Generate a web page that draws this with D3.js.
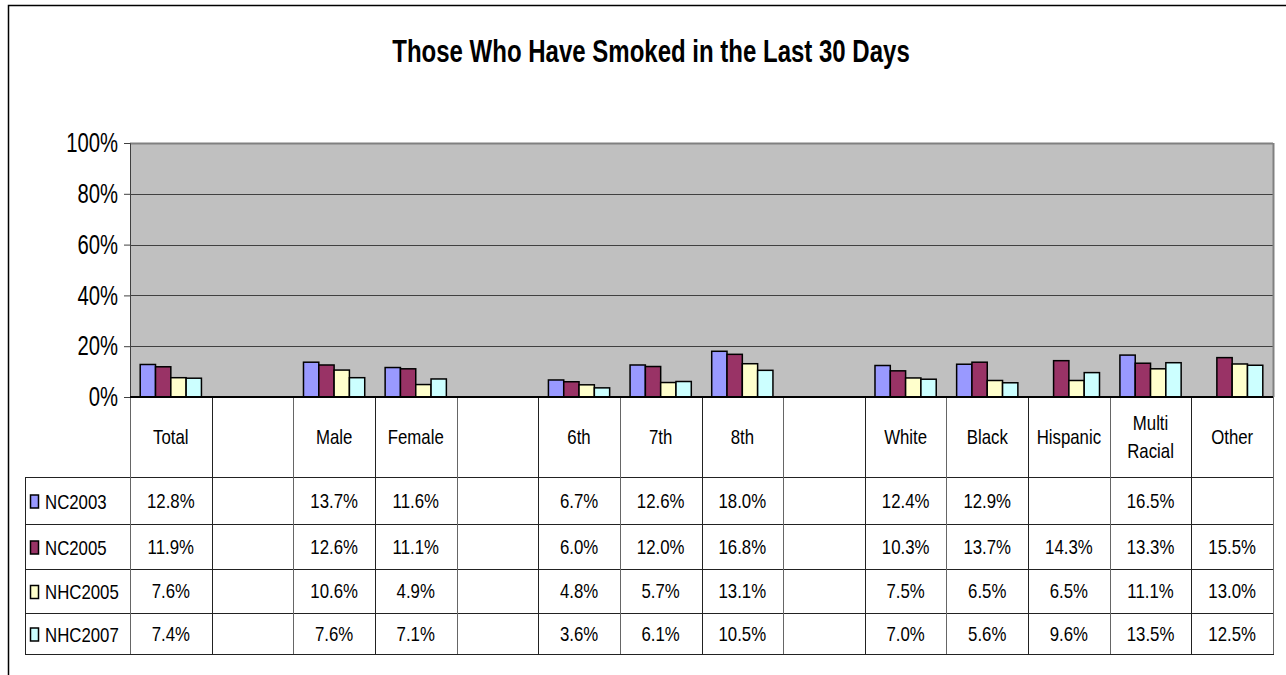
<!DOCTYPE html>
<html>
<head>
<meta charset="utf-8">
<script src="https://cdn.jsdelivr.net/npm/d3@7"></script>
<style>
  body { margin: 0; background: #fff; }
  text { font-family: "Liberation Sans", Arial, sans-serif; fill: #000; }
</style>
</head>
<body>
<div id="chart"></div>
<script>
const categories = ["Total", "", "Male", "Female", "", "6th", "7th", "8th", "", "White", "Black", "Hispanic", "Multi Racial", "Other"];
const seriesNames = ["NC2003", "NC2005", "NHC2005", "NHC2007"];
const nc2003 = [12.8, null, 13.7, 11.6, null, 6.7, 12.6, 18.0, null, 12.4, 12.9, null, 16.5, null];
const nc2005 = [11.9, null, 12.6, 11.1, null, 6.0, 12.0, 16.8, null, 10.3, 13.7, 14.3, 13.3, 15.5];
const nhc2005 = [7.6, null, 10.6, 4.9, null, 4.8, 5.7, 13.1, null, 7.5, 6.5, 6.5, 11.1, 13.0];
const nhc2007 = [7.4, null, 7.6, 7.1, null, 3.6, 6.1, 10.5, null, 7.0, 5.6, 9.6, 13.5, 12.5];
const yTicks = [0, 20, 40, 60, 80, 100];
const colors = ["#9999FF", "#993366", "#FFFFCC", "#CCFFFF"];

const series = [nc2003, nc2005, nhc2005, nhc2007];

const width = 1286;
const height = 675;
const plot = {left: 130, right: 1273, top: 143, bottom: 397};
const rowLines = [477, 524, 569, 613, 654];
const legendLeft = 25;

// squeeze text horizontally like the excel export does
function squeeze(sel, k) {
  sel.each(function() {
    const w = this.getComputedTextLength();
    if (w > 0) {
      this.setAttribute("textLength", w * k);
      this.setAttribute("lengthAdjust", "spacingAndGlyphs");
    }
  });
}

const x0 = d3.scaleBand()
  .domain(d3.range(categories.length))
  .range([plot.left, plot.right]);

const gap = x0.bandwidth() * 0.125;
const x1 = d3.scaleBand()
  .domain(d3.range(seriesNames.length))
  .range([gap, x0.bandwidth() - gap]);

const yScale = d3.scaleLinear()
  .domain([0, 100])
  .range([plot.bottom, plot.top]);

const svg = d3.select("#chart")
  .append("svg")
  .attr("width", width)
  .attr("height", height);

// outer chart border (runs off the page right and bottom)
svg.append("rect")
  .attr("x", 8.5).attr("y", 5.5)
  .attr("width", 1300).attr("height", 700)
  .attr("fill", "none")
  .attr("stroke", "#000")
  .attr("stroke-width", 1.5);

svg.append("text")
  .attr("x", 651)
  .attr("y", 62)
  .attr("text-anchor", "middle")
  .attr("font-size", 32)
  .attr("font-weight", "bold")
  .text("Those Who Have Smoked in the Last 30 Days")
  .call(squeeze, 0.75);

// plot area
svg.append("rect")
  .attr("x", plot.left).attr("y", plot.top)
  .attr("width", plot.right - plot.left)
  .attr("height", plot.bottom - plot.top)
  .attr("fill", "#C0C0C0");

svg.append("g")
  .selectAll("line")
  .data(yTicks.filter(d => d > 0))
  .enter()
  .append("line")
  .attr("x1", plot.left).attr("x2", plot.right)
  .attr("y1", d => Math.round(yScale(d)) + 0.5)
  .attr("y2", d => Math.round(yScale(d)) + 0.5)
  .attr("stroke", d => d === 100 ? "#808080" : "#404040")
  .attr("stroke-width", d => d === 100 ? 2 : 1);

svg.append("line")
  .attr("x1", plot.right + 0.5).attr("x2", plot.right + 0.5)
  .attr("y1", plot.top).attr("y2", plot.bottom)
  .attr("stroke", "#808080").attr("stroke-width", 2);

const yAxis = svg.append("g")
  .attr("transform", `translate(${plot.left},0)`)
  .call(d3.axisLeft(yScale).tickValues(yTicks).tickFormat(d => d + "%").tickSize(6).tickPadding(6));
yAxis.select(".domain").attr("stroke", "#404040");
yAxis.selectAll(".tick line").attr("stroke", "#404040");
yAxis.selectAll("text")
  .attr("font-size", 27)
  .attr("font-family", "Liberation Sans, Arial, sans-serif")
  .attr("fill", "#000")
  .call(squeeze, 0.75);

// bars
const barData = [];
series.forEach((vals, s) => {
  vals.forEach((v, i) => {
    if (v !== null) barData.push({cat: i, s: s, value: v});
  });
});

svg.append("g")
  .selectAll("rect")
  .data(barData)
  .enter()
  .append("rect")
  .attr("x", d => x0(d.cat) + x1(d.s))
  .attr("y", d => yScale(d.value))
  .attr("width", x1.bandwidth())
  .attr("height", d => plot.bottom - yScale(d.value))
  .attr("fill", d => colors[d.s])
  .attr("stroke", "#000")
  .attr("stroke-width", 1.5);

// data table
const table = svg.append("g");

table.selectAll(".hline")
  .data(rowLines)
  .enter()
  .append("line")
  .attr("x1", legendLeft).attr("x2", plot.right + 1)
  .attr("y1", d => d + 0.5).attr("y2", d => d + 0.5)
  .attr("stroke", "#222");

table.selectAll(".vline")
  .data(d3.range(categories.length + 1))
  .enter()
  .append("line")
  .attr("x1", i => Math.round(plot.left + i * x0.bandwidth()) + 0.5)
  .attr("x2", i => Math.round(plot.left + i * x0.bandwidth()) + 0.5)
  .attr("y1", plot.bottom).attr("y2", rowLines[rowLines.length - 1])
  .attr("stroke", (i) => i % 2 ? "#222" : "#666");

table.append("line")
  .attr("x1", legendLeft + 0.5).attr("x2", legendLeft + 0.5)
  .attr("y1", rowLines[0]).attr("y2", rowLines[rowLines.length - 1])
  .attr("stroke", "#222");

// x axis line at 0%
svg.append("line")
  .attr("x1", plot.left).attr("x2", plot.right)
  .attr("y1", plot.bottom).attr("y2", plot.bottom)
  .attr("stroke", "#000").attr("stroke-width", 2);

// category headers
const headerMid = (plot.bottom + rowLines[0]) / 2;
categories.forEach((c, i) => {
  const parts = c.split(" ");
  const t = table.append("text")
    .attr("text-anchor", "middle")
    .attr("font-size", 21);
  parts.forEach((p, j) => {
    t.append("tspan")
      .attr("x", x0(i) + x0.bandwidth() / 2)
      .attr("y", headerMid + 7 + (j - (parts.length - 1) / 2) * 28)
      .text(p);
  });
  t.selectAll("tspan").call(squeeze, 0.8);
});

// rows: legend key + values
seriesNames.forEach((name, s) => {
  const mid = (rowLines[s] + rowLines[s + 1]) / 2;
  table.append("rect")
    .attr("x", 30.5).attr("y", mid - 5.5)
    .attr("width", 8).attr("height", 13)
    .attr("fill", colors[s])
    .attr("stroke", "#000")
    .attr("stroke-width", 1.5);
  table.append("text")
    .attr("x", 45)
    .attr("y", mid + 8)
    .attr("font-size", 21)
    .text(name)
    .call(squeeze, 0.8);

  table.selectAll(".val" + s)
    .data(series[s].map((v, i) => ({v: v, i: i})).filter(d => d.v !== null))
    .enter()
    .append("text")
    .attr("x", d => x0(d.i) + x0.bandwidth() / 2)
    .attr("y", mid + 7)
    .attr("text-anchor", "middle")
    .attr("font-size", 21)
    .text(d => d.v.toFixed(1) + "%")
    .call(squeeze, 0.8);
});
</script>
</body>
</html>
